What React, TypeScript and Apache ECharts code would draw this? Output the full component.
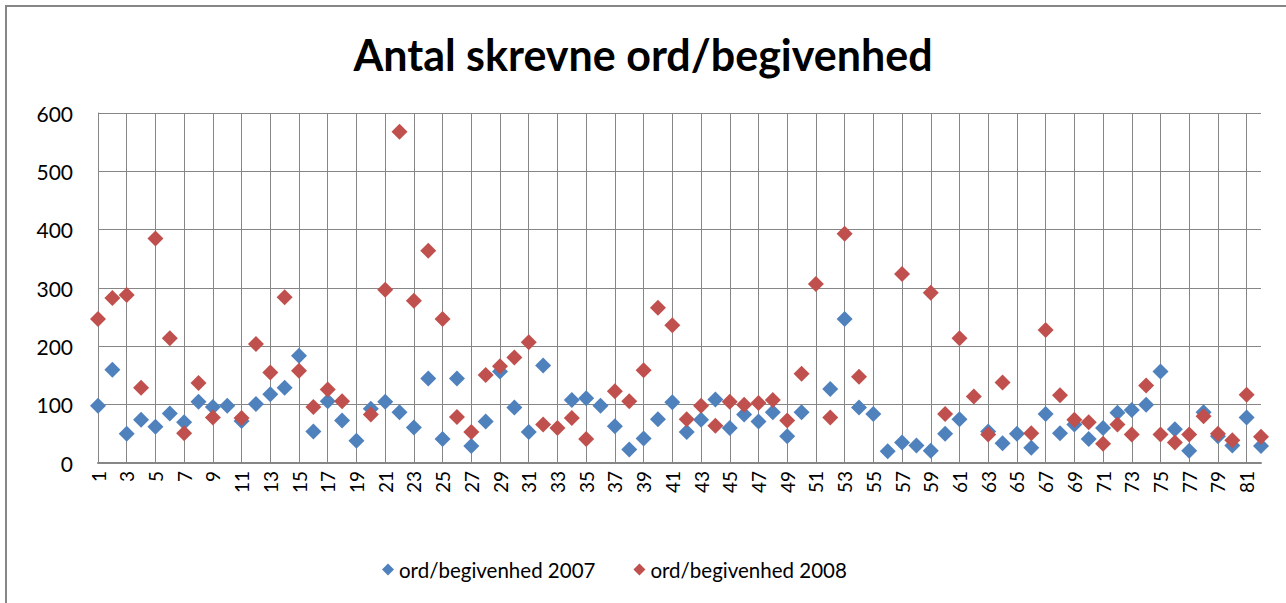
import React, { useEffect, useRef } from "react";
import * as echarts from "echarts";

const categories: string[] = Array.from({ length: 82 }, (_, i) => String(i + 1));

const series2007: (number | null)[] = [
  98, 160, 50, 74, 62, 85, 70, 105, 96, 98,
  72, 101, 118, 129, 184, 54, 106, 73, 38, 93,
  105, 87, 61, 145, 41, 145, 29, 71, 157, 95,
  53, 167, null, 108, 111, 98, 63, 23, 42, 75,
  104, 53, 74, 109, 60, 83, 71, 87, 46, 87,
  null, 127, 247, 95, 84, 20, 35, 30, 21, 50,
  75, null, 54, 34, 50, 26, 84, 51, 66, 41,
  60, 86, 91, 100, 157, 58, 21, 87, 46, 30,
  78, 29,
];

const series2008: (number | null)[] = [
  247, 283, 288, 129, 385, 214, 51, 137, 78, null,
  77, 204, 155, 284, 158, 96, 126, 106, null, 83,
  297, 568, 278, 364, 247, 79, 53, 151, 166, 181,
  207, 66, 60, 77, 41, null, 123, 106, 159, 266,
  236, 75, 98, 64, 105, 100, 103, 108, 73, 153,
  307, 78, 393, 148, null, null, 324, null, 292, 84,
  214, 114, 49, 138, null, 51, 228, 116, 74, 70,
  33, 66, 49, 133, 49, 35, 49, 80, 50, 39,
  117, 45,
];

const seriesNames: string[] = ["ord/begivenhed 2007", "ord/begivenhed 2008"];
const titleText = "Antal skrevne ord/begivenhed";

const FONT = "Lato, 'Open Sans', sans-serif";
const GRID = "#868686";

export default function App() {
  const ref = useRef<HTMLDivElement>(null);
  useEffect(() => {
    if (!ref.current) return;
    const chart = echarts.init(ref.current, undefined, { renderer: "svg" });
    chart.setOption({
      animation: false,
      backgroundColor: "#ffffff",
      title: {
        text: titleText,
        left: "center",
        top: 28,
        textStyle: { fontFamily: FONT, fontSize: 43, fontWeight: "bold", color: "#000" },
      },
      graphic: [
        {
          type: "rect",
          shape: { x: 6, y: 6, width: 1400, height: 700 },
          style: { fill: "none", stroke: GRID, lineWidth: 2 },
          silent: true,
        },
      ],
      legend: {
        bottom: 18,
        left: 377,
        itemGap: 38,
        itemWidth: 12,
        itemHeight: 12,
        icon: "diamond",
        textStyle: { fontFamily: FONT, fontSize: 20.5, color: "#000" },
        data: seriesNames,
      },
      grid: { left: 98, right: 25, top: 113, bottom: 140, containLabel: false },
      xAxis: {
        type: "category",
        data: categories,
        boundaryGap: false,
        axisLine: { lineStyle: { color: GRID, width: 2 } },
        axisTick: { show: false },
        axisLabel: {
          interval: 1,
          rotate: 90,
          margin: 8,
          fontFamily: FONT,
          fontSize: 19,
          color: "#000",
        },
        splitLine: { show: true, interval: 1, lineStyle: { color: GRID, width: 1 } },
      },
      yAxis: {
        type: "value",
        min: 0,
        max: 600,
        interval: 100,
        axisLine: { show: true, lineStyle: { color: GRID, width: 1 } },
        axisTick: { show: false },
        axisLabel: { margin: 25, fontFamily: FONT, fontSize: 21, color: "#000" },
        splitLine: { show: true, lineStyle: { color: GRID, width: 1 } },
      },
      series: [
        {
          name: seriesNames[0],
          type: "scatter",
          data: series2007,
          symbol: "diamond",
          symbolSize: 16,
          itemStyle: { color: "#4F81BD", opacity: 1 },
        },
        {
          name: seriesNames[1],
          type: "scatter",
          data: series2008,
          symbol: "diamond",
          symbolSize: 16,
          itemStyle: { color: "#C0504D", opacity: 1 },
        },
      ],
    });
    return () => chart.dispose();
  }, []);
  return (
    <div
      ref={ref}
      style={{ position: "fixed", left: 0, top: 0, width: 1286, height: 603 }}
    />
  );
}
